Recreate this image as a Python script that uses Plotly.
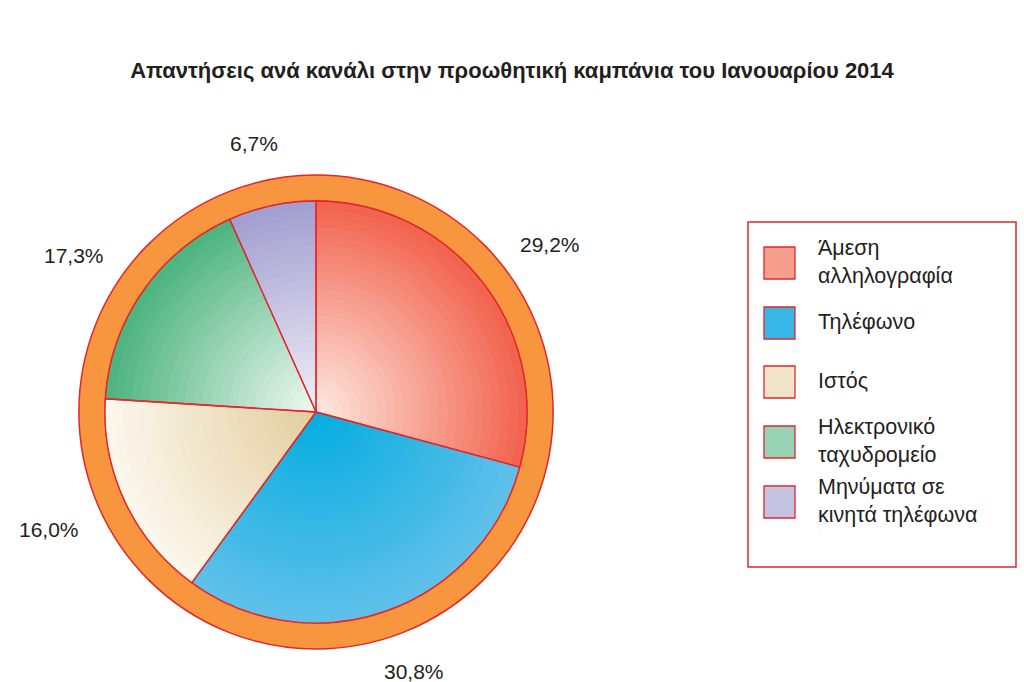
import math
import plotly.graph_objects as go

# ---------------- data ----------------
labels = ["Άμεση αλληλογραφία", "Τηλέφωνο", "Ιστός",
          "Ηλεκτρονικό ταχυδρομείο", "Μηνύματα σε κινητά τηλέφωνα"]
legend_text = ["Άμεση<br>αλληλογραφία", "Τηλέφωνο", "Ιστός",
               "Ηλεκτρονικό<br>ταχυδρομείο", "Μηνύματα σε<br>κινητά τηλέφωνα"]
values = [29.2, 30.8, 16.0, 17.3, 6.7]
value_text = ["29,2%", "30,8%", "16,0%", "17,3%", "6,7%"]
title_text = "Απαντήσεις ανά κανάλι στην προωθητική καμπάνια του Ιανουαρίου 2014"

# ---------------- style ----------------
outer_colors = ["#F2644F", "#5EC0E9", "#FCF7EC", "#4EB480", "#A39FD0"]
inner_colors = ["#FDE6DE", "#06ADE0", "#E3CE9F", "#EEF7F1", "#EEEEF8"]
RED = "#E3262C"
ORANGE = "#F8953F"
TXT = "#231F20"

W, H = 1024, 682
CX, CY = 316, 412      # pie centre (px)
R_PIE = 211
R_RING = 237
N_LAYERS = 24


def hex2rgb(h):
    h = h.lstrip("#")
    return tuple(int(h[i:i + 2], 16) for i in (0, 2, 4))


def mix(a, b, t):
    ra, rb = hex2rgb(a), hex2rgb(b)
    return "rgb(%d,%d,%d)" % tuple(round(ra[i] + (rb[i] - ra[i]) * t) for i in range(3))


def domain(r):
    return dict(x=[(CX - r) / W, (CX + r) / W],
                y=[(H - CY - r) / H, (H - CY + r) / H])


def px(x):
    return x / W


def py(y):
    return 1 - y / H


fig = go.Figure()

# orange ring
fig.add_trace(go.Pie(
    values=[1], labels=["ring"], hole=R_PIE / R_RING, sort=False,
    marker=dict(colors=[ORANGE], line=dict(color=RED, width=1.5)),
    textinfo="none", hoverinfo="skip", showlegend=False,
    domain=domain(R_RING)))

# pie layers (radial shading)
for k in range(N_LAYERS):
    t = k / (N_LAYERS - 1)
    r = R_PIE * (1 - k / N_LAYERS)
    cols = [mix(o, i, t) for o, i in zip(outer_colors, inner_colors)]
    fig.add_trace(go.Pie(
        values=values, labels=labels, sort=False, direction="clockwise",
        rotation=0, marker=dict(colors=cols, line=dict(width=0)),
        textinfo="none", hoverinfo="skip", showlegend=False,
        domain=domain(r)))

# outline
fig.add_trace(go.Pie(
    values=values, labels=labels, sort=False, direction="clockwise",
    rotation=0,
    marker=dict(colors=["rgba(0,0,0,0)"] * len(values),
                line=dict(color=RED, width=1.3)),
    textinfo="none", hoverinfo="label+percent", showlegend=False,
    domain=domain(R_PIE)))

# percentage labels outside
annotations = []
total = sum(values)
cum = 0
R_LAB = 264
TW, TH = 62, 22
for v, txt in zip(values, value_text):
    mid = (cum + v / 2) / total * 2 * math.pi
    cum += v
    s, c = math.sin(mid), math.cos(mid)
    x = CX + R_LAB * s + s * TW / 2
    y = CY - R_LAB * c - c * TH / 2
    annotations.append(dict(x=px(x), y=py(y), xref="paper", yref="paper",
                            text=txt, showarrow=False,
                            font=dict(size=21, color=TXT,
                                      family="Liberation Sans, Arial"),
                            xanchor="center", yanchor="middle"))

# custom legend
shapes = [dict(type="rect", xref="paper", yref="paper",
               x0=px(748), x1=px(1016), y0=py(222), y1=py(567),
               line=dict(color=RED, width=1.5), fillcolor="white", layer="below")]
LEG_Y = [263, 323, 382, 442, 502]
for ly, txt, o, i in zip(LEG_Y, legend_text, outer_colors, inner_colors):
    shapes.append(dict(type="rect", xref="paper", yref="paper",
                       x0=px(764), x1=px(795), y0=py(ly - 16), y1=py(ly + 16),
                       fillcolor=mix(o, i, 0.45),
                       line=dict(color=RED, width=1.3)))
    annotations.append(dict(x=px(816), y=py(ly - 1), xref="paper", yref="paper",
                            text=txt, showarrow=False, align="left",
                            xanchor="left", yanchor="middle",
                            font=dict(size=21.5, color=TXT,
                                      family="Liberation Sans, Arial")))
annotations.append(dict(x=px(823), y=py(540), xref="paper", yref="paper",
                        text="·", showarrow=False,
                        font=dict(size=8, color="#BBBBBB")))

fig.update_layout(
    width=W, height=H,
    margin=dict(l=0, r=0, t=0, b=0),
    paper_bgcolor="white", plot_bgcolor="white",
    title=dict(text="<b>" + title_text + "</b>", x=0.5, xanchor="center",
               y=1 - 70 / H, yanchor="middle", yref="container",
               font=dict(size=22, color=TXT, family="Liberation Sans, Arial")),
    shapes=shapes, annotations=annotations, showlegend=False,
)

fig.write_html("out.html")
